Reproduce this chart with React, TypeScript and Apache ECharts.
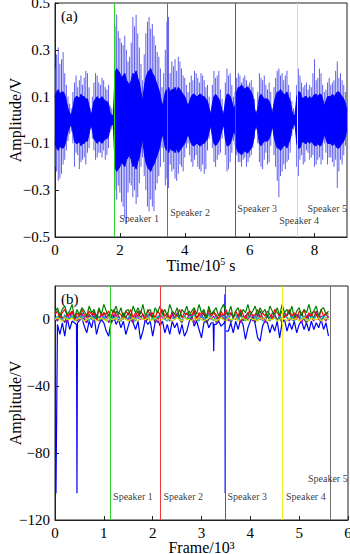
import React, { useEffect, useRef } from "react";
import * as echarts from "echarts";

// ---------- Panel (a): speech waveform envelope (x in 10^5 s) ----------
// Values at t = 0, 0.1, 0.2 ... 9.0
const waveUpper = [
  0.22, 0.31, 0.26, 0.2, 0.1, 0.05, 0.16, 0.14, 0.19, 0.18, 0.2, 0.05, 0.16, 0.19, 0.15, 0.17, 0.13, 0.06, 0.04,
  0.45, 0.35, 0.32, 0.3, 0.27, 0.44, 0.45, 0.31, 0.17, 0.37, 0.44, 0.41, 0.32, 0.27, 0.14, 0.3, 0.44,
  0.25, 0.26, 0.27, 0.22, 0.18, 0.12, 0.19, 0.21, 0.18, 0.2, 0.17, 0.15, 0.04, 0.21, 0.19, 0.13, 0.04, 0.22, 0.2, 0.1,
  0.18, 0.19, 0.18, 0.17, 0.16, 0.14, 0.04, 0.2, 0.17, 0.15, 0.16, 0.05, 0.18, 0.22, 0.2, 0.19, 0.15, 0.08, 0.04,
  0.22, 0.16, 0.15, 0.13, 0.14, 0.26, 0.18, 0.2, 0.12, 0.16, 0.15, 0.17, 0.25, 0.2, 0.15, 0.08,
];
const waveLower = [
  -0.2, -0.26, -0.23, -0.17, -0.09, -0.05, -0.2, -0.15, -0.18, -0.16, -0.14, -0.04, -0.13, -0.16, -0.14, -0.13, -0.15, -0.05, -0.03,
  -0.34, -0.31, -0.37, -0.44, -0.27, -0.33, -0.36, -0.27, -0.16, -0.3, -0.39, -0.37, -0.3, -0.24, -0.12, -0.28, -0.29,
  -0.22, -0.25, -0.23, -0.2, -0.16, -0.1, -0.18, -0.17, -0.2, -0.22, -0.23, -0.13, -0.04, -0.18, -0.17, -0.14, -0.03, -0.22, -0.18, -0.09,
  -0.15, -0.18, -0.17, -0.2, -0.16, -0.12, -0.04, -0.18, -0.21, -0.14, -0.18, -0.04, -0.2, -0.33, -0.22, -0.21, -0.17, -0.07, -0.03,
  -0.24, -0.15, -0.18, -0.14, -0.16, -0.2, -0.17, -0.19, -0.1, -0.19, -0.16, -0.2, -0.29, -0.17, -0.15, -0.07,
];
const waveCore = [
  0.1, 0.13, 0.12, 0.11, 0.05, 0.02, 0.09, 0.1, 0.11, 0.1, 0.09, 0.02, 0.08, 0.1, 0.09, 0.09, 0.08, 0.03, 0.02,
  0.22, 0.2, 0.19, 0.17, 0.15, 0.2, 0.21, 0.16, 0.08, 0.18, 0.21, 0.2, 0.17, 0.13, 0.06, 0.12, 0.14,
  0.13, 0.14, 0.14, 0.12, 0.1, 0.06, 0.1, 0.11, 0.1, 0.11, 0.1, 0.08, 0.02, 0.1, 0.1, 0.07, 0.02, 0.11, 0.1, 0.05,
  0.12, 0.14, 0.14, 0.14, 0.13, 0.1, 0.02, 0.1, 0.1, 0.09, 0.08, 0.02, 0.1, 0.12, 0.12, 0.11, 0.1, 0.04, 0.02,
  0.12, 0.1, 0.1, 0.09, 0.09, 0.11, 0.1, 0.11, 0.06, 0.1, 0.1, 0.1, 0.12, 0.11, 0.09, 0.04,
];
// Values at t = 0.05, 0.15 ... 8.95
const waveUpperMid = [
  0.28, 0.24, 0.29, 0.15, 0.07, 0.12, 0.19, 0.17, 0.15, 0.21, 0.14, 0.1, 0.2, 0.16, 0.18, 0.14, 0.15, 0.05,
  0.4, 0.38, 0.33, 0.36, 0.25, 0.33, 0.4, 0.37, 0.24, 0.28, 0.42, 0.39, 0.36, 0.29, 0.22, 0.2, 0.42,
  0.2, 0.23, 0.21, 0.25, 0.19, 0.15, 0.16, 0.17, 0.2, 0.16, 0.19, 0.14, 0.1, 0.15, 0.18, 0.21, 0.09, 0.16, 0.19, 0.15, 0.12,
  0.2, 0.16, 0.19, 0.15, 0.17, 0.09, 0.12, 0.18, 0.19, 0.13, 0.12, 0.14, 0.21, 0.19, 0.17, 0.21, 0.12, 0.05, 0.15,
  0.19, 0.14, 0.16, 0.15, 0.2, 0.17, 0.22, 0.15, 0.13, 0.18, 0.16, 0.21, 0.18, 0.17, 0.12,
];
const waveLowerMid = [
  -0.22, -0.25, -0.19, -0.13, -0.06, -0.1, -0.14, -0.21, -0.17, -0.19, -0.12, -0.08, -0.17, -0.14, -0.16, -0.17, -0.12, -0.04,
  -0.3, -0.28, -0.35, -0.42, -0.31, -0.28, -0.3, -0.33, -0.2, -0.24, -0.37, -0.34, -0.39, -0.27, -0.2, -0.18, -0.25,
  -0.19, -0.21, -0.26, -0.19, -0.22, -0.12, -0.15, -0.2, -0.15, -0.21, -0.19, -0.21, -0.08, -0.12, -0.2, -0.15, -0.08, -0.15, -0.21, -0.14, -0.11,
  -0.18, -0.2, -0.16, -0.18, -0.15, -0.08, -0.1, -0.2, -0.17, -0.19, -0.11, -0.15, -0.26, -0.24, -0.19, -0.18, -0.14, -0.04, -0.2,
  -0.17, -0.19, -0.13, -0.17, -0.15, -0.19, -0.16, -0.17, -0.14, -0.16, -0.18, -0.17, -0.22, -0.19, -0.11,
];
const waveCoreMid = [
  0.12, 0.11, 0.12, 0.08, 0.03, 0.05, 0.1, 0.09, 0.1, 0.09, 0.06, 0.04, 0.09, 0.09, 0.1, 0.08, 0.07, 0.02,
  0.2, 0.21, 0.18, 0.2, 0.16, 0.17, 0.19, 0.18, 0.12, 0.14, 0.2, 0.22, 0.19, 0.15, 0.1, 0.08, 0.13,
  0.12, 0.13, 0.12, 0.13, 0.11, 0.08, 0.08, 0.11, 0.1, 0.11, 0.1, 0.09, 0.05, 0.07, 0.11, 0.09, 0.04, 0.08, 0.11, 0.08, 0.06,
  0.14, 0.15, 0.13, 0.14, 0.12, 0.05, 0.05, 0.11, 0.09, 0.09, 0.06, 0.07, 0.12, 0.13, 0.11, 0.12, 0.08, 0.02, 0.1,
  0.12, 0.09, 0.1, 0.1, 0.1, 0.11, 0.11, 0.09, 0.08, 0.1, 0.11, 0.11, 0.12, 0.1, 0.07,
];
const speakerNames = ["Speaker 1", "Speaker 2", "Speaker 3", "Speaker 4", "Speaker 5"];
const dividerColors = ["#2fd12f", "#ee3a3a", "#4a4af2", "#f0f020", "#707070"];
const dividersA = [1.82, 3.46, 5.56, 7.47];
const labelPosA: [number, number][] = [
  [1.98, -0.423], [3.55, -0.397], [5.62, -0.38], [6.91, -0.43], [7.78, -0.38],
];

// ---------- Panel (b): frame features (x in 10^3 frames), values every 0.05 ----------
const featBlue: [number, number][] = [
  [0, -104], [0.02, -104], [0.05, -3], [0.1, -9], [0.15, -2], [0.2, -10], [0.25, 1], [0.3, -6], [0.35, -1], [0.44, -3],
  [0.45, -104], [0.46, -2], [0.55, 1], [0.6, -4], [0.65, -8], [0.7, -1], [0.75, -5], [0.8, 2], [0.85, -9], [0.9, -3],
  [0.95, 0], [1.0, -2], [1.05, -7], [1.1, -10], [1.15, -1], [1.2, 2], [1.25, -3], [1.3, 0], [1.35, -5], [1.4, -1],
  [1.45, -9], [1.5, -4], [1.55, 1], [1.6, -2], [1.65, -6], [1.7, -1], [1.75, -12], [1.8, -7], [1.85, 0], [1.9, -3],
  [1.95, -1], [2.0, -10], [2.05, -2], [2.1, 1], [2.15, -4], [2.2, -1], [2.25, -8], [2.3, -3], [2.35, -9], [2.4, -1],
  [2.45, -5], [2.5, -2], [2.55, -9], [2.6, -3], [2.65, -10], [2.7, -7], [2.75, -1], [2.8, 2], [2.85, -4], [2.9, -1],
  [2.95, -6], [3.0, -11], [3.05, -2], [3.1, 0], [3.15, -5], [3.2, -2], [3.24, -2], [3.25, -19], [3.26, -3], [3.3, -3],
  [3.35, -1], [3.4, -4], [3.47, -2], [3.48, 15], [3.485, -104], [3.49, -7], [3.55, -7], [3.6, -2], [3.65, -8], [3.7, -1],
  [3.75, -6], [3.8, 0], [3.85, -3], [3.9, -12], [3.95, -5], [4.0, -1], [4.05, 2], [4.1, -3], [4.15, -11], [4.2, -13],
  [4.25, -4], [4.3, -1], [4.35, -2], [4.4, -8], [4.45, -3], [4.5, -7], [4.55, -1], [4.6, -11], [4.65, -2], [4.7, 0],
  [4.75, -7], [4.8, -2], [4.85, -6], [4.9, -1], [4.95, -8], [5.0, -3], [5.05, -1], [5.1, -6], [5.15, -2], [5.2, -7],
  [5.25, -1], [5.3, -6], [5.35, -2], [5.4, -5], [5.45, 0], [5.5, -6], [5.55, -2], [5.6, -10],
];
const featGray = [
  2, -1, 4, 1, -2, 3, 0, 5, 1, -1, 2, 4, 0, -2, 3, 1, 5, 0, 2, -1, 4, 1, 3, -2, 0, 5, 2, -1, 3, 1,
  4, 0, -2, 2, 5, 1, 3, -1, 0, 4, 2, -2, 1, 3, 5, 0, 2, -1, 4, 1, 3, 0, -2, 2, 4, 1, 0, 5, -1, 3,
  1, 4, -2, 0, 2, 5, 1, -1, 3, 0, 4, 2, -2, 1, 3, 0, 5, -1, 2, 4, 0, 1, -2, 3, 5, 1, 0, 2, -1, 4,
  3, 0, 1, -2, 4, 2, 5, 0, -1, 3, 1, 4, 0, -2, 2, 3, 1, 5, 0, -1, 2, 3, 1,
];
const featMagenta = [
  1, -1, 3, 0, 2, -2, 4, 1, 0, 2, -1, 3, 1, -2, 2, 0, 4, 1, -1, 3, 0, 2, -2, 1, 3, 0, 2, -1, 4, 1,
  0, 3, -2, 2, 1, 0, 3, -1, 2, 4, 0, 1, -2, 3, 1, 0, 2, -1, 3, 0, 4, 1, -1, 2, 0, 3, 1, -2, 2, 0,
  3, -1, 1, 4, 0, 2, -2, 1, 3, 0, 2, -1, 4, 1, 0, 3, -2, 2, 1, 0, 3, -1, 2, 4, 0, 1, -2, 3, 1, 0,
  2, -1, 3, 0, 4, 1, -1, 2, 0, 3, 1, -2, 2, 0, 3, 1, -1, 4, 0, 2, 1, -1, 2,
];
const featCyan = [
  0, 2, 1, -1, 3, 0, 1, 2, -1, 1, 3, 0, 2, 1, -1, 2, 0, 3, 1, 0, 2, -1, 1, 3, 0, 2, 1, -1, 2, 0,
  1, 3, 0, -1, 2, 1, 0, 2, 3, -1, 1, 0, 2, 1, 3, 0, -1, 2, 1, 0, 3, 1, -1, 2, 0, 1, 2, 3, 0, -1,
  2, 1, 0, 3, 1, -1, 2, 0, 1, 3, 0, 2, -1, 1, 3, 0, 2, 1, -1, 2, 0, 3, 1, 0, 2, -1, 1, 3, 0, 2,
  1, -1, 2, 0, 3, 1, 0, 2, -1, 1, 3, 0, 2, 1, -1, 2, 0, 3, 1, 0, 2, 1, 0,
];
const featRed = [
  3, 5, 1, 4, 6, 2, 3, 5, 0, 4, 2, 6, 3, 1, 5, 3, 4, 0, 6, 2, 4, 3, 5, 1, 6, 2, 4, 3, 0, 5,
  3, 6, 1, 4, 2, 5, 3, 0, 6, 2, 4, 1, 5, 3, 6, 2, 4, 0, 5, 3, 2, 6, 1, 4, 3, 5, 2, 6, 0, 4,
  3, 5, 1, 6, 2, 4, 3, 0, 5, 2, 6, 3, 4, 1, 5, 2, 6, 3, 0, 4, 5, 2, 3, 6, 1, 4, 2, 5, 3, 0,
  6, 4, 2, 5, 1, 3, 6, 2, 4, 0, 5, 3, 6, 1, 4, 2, 5, 3, 0, 6, 2, 4, 3,
];
const featGreen = [
  4, 7, 2, 6, 8, 3, 5, 9, 1, 6, 3, 7, 5, 2, 8, 4, 6, 1, 7, 3, 9, 5, 2, 6, 4, 8, 3, 7, 1, 5,
  6, 2, 8, 4, 7, 3, 9, 2, 5, 6, 1, 7, 4, 8, 3, 6, 2, 9, 5, 3, 7, 1, 6, 4, 8, 2, 5, 7, 3, 9,
  4, 6, 1, 8, 3, 5, 7, 2, 6, 9, 4, 3, 8, 1, 5, 7, 2, 6, 4, 9, 3, 5, 8, 2, 7, 4, 6, 1, 8, 5,
  3, 7, 2, 9, 4, 6, 3, 8, 1, 5, 7, 2, 6, 4, 9, 3, 5, 8, 2, 6, 7, 3, 5,
];
const featOlive = [
  0, 1, 0, -1, 1, 0, 0, 1, -1, 0, 1, 0, -1, 0, 1, 1, 0, -1, 0, 1, 0, -1, 1, 0, 0, 1, -1, 0, 1, 0,
  -1, 0, 1, 0, -1, 1, 0, 0, 1, -1, 0, 1, 0, -1, 0, 1, 1, 0, -1, 0, 1, 0, -1, 1, 0, 0, -1, 1, 0, 1,
  0, -1, 0, 1, 1, 0, -1, 0, 1, 0, -1, 1, 0, 0, 1, -1, 0, 1, 0, -1, 1, 0, 0, -1, 1, 0, 1, -1, 0, 0,
  1, -1, 0, 1, 0, -1, 1, 0, 0, 1, -1, 0, 1, 0, -1, 1, 0, 0, 1, -1, 0, 1, 0,
];
const featStep = 0.05;
const dividersB = [1.13, 2.16, 3.48, 4.65, 5.64];
const labelPosB: [number, number][] = [
  [1.19, -106], [2.22, -106], [3.53, -106], [4.73, -106], [5.18, -95],
];

const FONT = "Liberation Serif, Times New Roman, serif";

function minusFmt(v: number, digits: number) {
  const s = Math.abs(v).toFixed(digits);
  return (v < -1e-9 ? "\u2212" : "") + s;
}

export default function App() {
  const ref = useRef<HTMLDivElement>(null);
  useEffect(() => {
    document.body.style.margin = "0";
    const chart = echarts.init(ref.current!, null, { renderer: "svg" });

    // merge the two sample grids (t = k*0.1 and t = k*0.1 + 0.05)
    const peakData: number[][] = [];
    const coreUp: number[][] = [];
    const coreDn: number[][] = [];
    waveUpper.forEach((u, i) => {
      const t = +(i * 0.1).toFixed(2);
      peakData.push([t, u, waveLower[i]]);
      coreUp.push([t, waveCore[i]]);
      coreDn.push([t, -waveCore[i]]);
      if (i < waveUpperMid.length) {
        const tm = +(i * 0.1 + 0.05).toFixed(2);
        peakData.push([tm, waveUpperMid[i], waveLowerMid[i]]);
        coreUp.push([tm, waveCoreMid[i]]);
        coreDn.push([tm, -waveCoreMid[i]]);
      }
    });
    const featLine = (arr: number[]) => arr.map((v, i) => [+(i * featStep).toFixed(2), v]);

    const axisCommon = {
      axisLine: { show: true, onZero: false, lineStyle: { color: "#222", width: 1 } },
      axisTick: { show: true, inside: true, length: 4, lineStyle: { color: "#222" } },
      splitLine: { show: false },
      nameMoveOverlap: false,
    };
    const labelStyle = { color: "#000", fontFamily: FONT, fontSize: 15 };
    const nameStyle = { color: "#000", fontFamily: FONT, fontSize: 16 };

    const markDividers = (vals: number[], colors: string[]) => ({
      silent: true,
      symbol: ["none", "none"],
      label: { show: false },
      animation: false,
      data: vals.map((v, i) => ({ xAxis: v, lineStyle: { color: colors[i], width: 1, type: "solid" } })),
    });

    const speakerLabels = (pos: [number, number][], xi: number) => ({
      type: "scatter",
      xAxisIndex: xi,
      yAxisIndex: xi,
      symbolSize: 0,
      silent: true,
      z: 20,
      data: pos.map((p, i) => ({ value: p, name: speakerNames[i] })),
      label: {
        show: true,
        position: [0, 0],
        align: "left",
        verticalAlign: "middle",
        formatter: (p: any) => p.name,
        color: "#000",
        fontFamily: FONT,
        fontSize: 10,
      },
    });

    const featSeries = (arr: number[], color: string, extra: any = {}) => ({
      type: "line", xAxisIndex: 1, yAxisIndex: 1, data: featLine(arr), showSymbol: false,
      lineStyle: { color, width: 1.2 }, z: 3, ...extra,
    });

    const supRich = { sup: { fontFamily: FONT, fontSize: 10, color: "#000", padding: [0, 0, 8, 0] } };

    const option: any = {
      animation: false,
      grid: [
        { left: 55, top: 3, width: 292, height: 234, show: true, borderColor: "#222", borderWidth: 1, backgroundColor: "transparent", containLabel: false, outerBoundsMode: "none" },
        { left: 55, top: 286, width: 293, height: 234, show: true, borderColor: "#222", borderWidth: 1, backgroundColor: "transparent", containLabel: false, outerBoundsMode: "none" },
      ],
      xAxis: [
        {
          gridIndex: 0, type: "value", min: 0, max: 9, interval: 2, ...axisCommon,
          axisLabel: { ...labelStyle, margin: 5, showMaxLabel: false },
          name: "Time/10{sup|5} s", nameLocation: "middle", nameGap: 19,
          nameTextStyle: { ...nameStyle, rich: supRich },
        },
        {
          gridIndex: 1, type: "value", min: 0, max: 6, interval: 1, ...axisCommon,
          axisLabel: { ...labelStyle, margin: 5 },
          name: "Frame/10\u00b3", nameLocation: "middle", nameGap: 20,
          nameTextStyle: { ...nameStyle, lineHeight: 14 },
        },
      ],
      yAxis: [
        {
          gridIndex: 0, type: "value", min: -0.5, max: 0.5, interval: 0.2, ...axisCommon,
          axisLabel: { ...labelStyle, margin: 5, formatter: (v: number) => minusFmt(v, 1) },
          name: "Amplitude/V", nameLocation: "middle", nameGap: 32, nameTextStyle: nameStyle,
        },
        {
          gridIndex: 1, type: "value", min: -120, max: 20, interval: 40, ...axisCommon,
          axisLabel: { ...labelStyle, margin: 5, showMaxLabel: false, formatter: (v: number) => minusFmt(v, 0) },
          name: "Amplitude/V", nameLocation: "middle", nameGap: 32, nameTextStyle: nameStyle,
        },
      ],
      graphic: [
        { type: "text", left: 61, top: 8, style: { text: "(a)", fill: "#000", font: `15px ${FONT}` } },
        { type: "text", left: 61, top: 291, style: { text: "(b)", fill: "#000", font: `15px ${FONT}` } },
      ],
      series: [
        // Panel (a)
        {
          type: "custom",
          xAxisIndex: 0, yAxisIndex: 0,
          clip: true,
          encode: { x: 0, y: [1, 2] },
          data: peakData,
          renderItem: (params: any, api: any) => {
            const t = api.value(0);
            const a = api.coord([t, api.value(1)]);
            const b = api.coord([t, api.value(2)]);
            return {
              type: "line",
              shape: { x1: a[0], y1: a[1], x2: b[0], y2: b[1] },
              style: { stroke: "#6060ee", lineWidth: 1 },
            };
          },
          z: 2,
        },
        {
          type: "line", xAxisIndex: 0, yAxisIndex: 0, data: coreUp, showSymbol: false,
          lineStyle: { color: "#0000ff", width: 1 }, areaStyle: { color: "#0000ff", opacity: 1 }, z: 3,
        },
        {
          type: "line", xAxisIndex: 0, yAxisIndex: 0, data: coreDn, showSymbol: false,
          lineStyle: { color: "#0000ff", width: 1 }, areaStyle: { color: "#0000ff", opacity: 1 }, z: 3,
          markLine: markDividers(dividersA, dividerColors),
        },
        speakerLabels(labelPosA, 0),
        // Panel (b)
        { type: "line", xAxisIndex: 1, yAxisIndex: 1, data: featBlue, showSymbol: false, lineStyle: { color: "#0000ff", width: 1.2 }, z: 3 },
        featSeries(featGray, "#404040"),
        featSeries(featMagenta, "#bf00bf"),
        featSeries(featCyan, "#00bfbf"),
        featSeries(featRed, "#ff0000"),
        featSeries(featGreen, "#008000"),
        featSeries(featOlive, "#d8d800", { markLine: markDividers(dividersB, dividerColors) }),
        speakerLabels(labelPosB, 1),
      ],
    };
    chart.setOption(option);
    return () => chart.dispose();
  }, []);
  return <div ref={ref} style={{ width: 350, height: 554 }} />;
}
